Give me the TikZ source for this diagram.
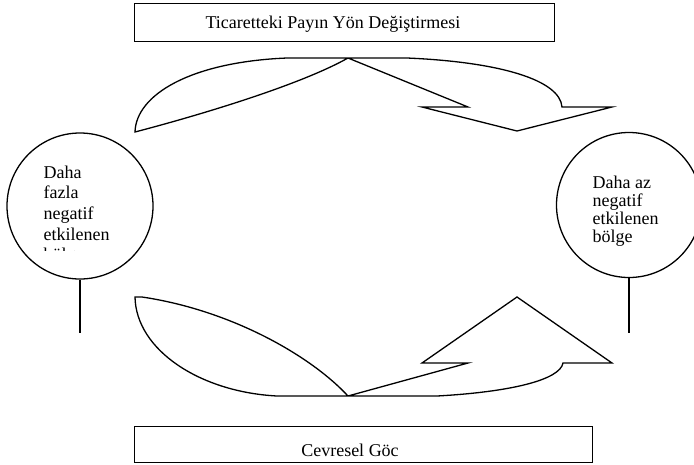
\documentclass[tikz,border=0pt]{standalone}
\usepackage{fontspec}
\setmainfont{Liberation Serif}
\begin{document}
\begin{tikzpicture}[x=1pt,y=-1pt,line width=1.3pt,line join=miter,
  lbl/.style={inner sep=0pt,font=\fontsize{18}{21}\selectfont},
  boxst/.style={draw,line width=1.4pt,inner sep=0pt,anchor=north west},
  ring/.style={draw,circle,line width=1.3pt,inner sep=0pt}]
\useasboundingbox (0,0) rectangle (694,464);
% boxes
\node[boxst,minimum width=420pt,minimum height=38pt] (topbox) at (134,3) {};
\node[boxst,minimum width=458pt,minimum height=36pt] (botbox) at (134,426) {};
\node[lbl,anchor=base] (toptext) at (333,28) {Ticaretteki\ Payın Yön Değiştirmesi};
\node[lbl,anchor=base] (bottext) at (350,456) {Cevresel Göc};
% circles
\node[ring,minimum size=146pt] (lc) at (80,206) {};
\node[ring,minimum size=145pt] (rc) at (629,205) {};
\coordinate (lstem) at (80,333);
\coordinate (rstem) at (629,333);
\draw (lc.south) -- (lstem);
\draw (rc.south) -- (rstem);
% circle texts
\begin{scope}
\clip (0,0) rectangle (694,250);
\foreach \t [count=\i] in {Daha,fazla,negatif,etkilenen,bölge}
  \node[lbl,anchor=base west] (lt\i) at (43,{178+20.7*(\i-1)}) {\t};
\end{scope}
\foreach \t [count=\i] in {Daha az,negatif,etkilenen,bölge}
  \node[lbl,anchor=base west] (rt\i) at (592,{188+18.3*(\i-1)}) {\t};
% top curved arrow
\draw (135,132) .. controls (136,95) and (190,62) .. (287,58) -- (407,58)
  .. controls (500,62) and (560,80) .. (562,107) -- (612,107) -- (517,131)
  -- (422,107) -- (468,107) -- (348,58)
  .. controls (300,85) and (200,115) .. (135,132) -- cycle;
% bottom curved arrow
\draw (135,297) .. controls (136,350) and (200,392) .. (277,396) -- (437,396)
  .. controls (510,392) and (560,380) .. (563,363) -- (612,363) -- (517,297)
  -- (422,363) -- (468,363) -- (348,396)
  .. controls (310,355) and (230,310) .. (142,297) -- cycle;
\end{tikzpicture}
\end{document}
